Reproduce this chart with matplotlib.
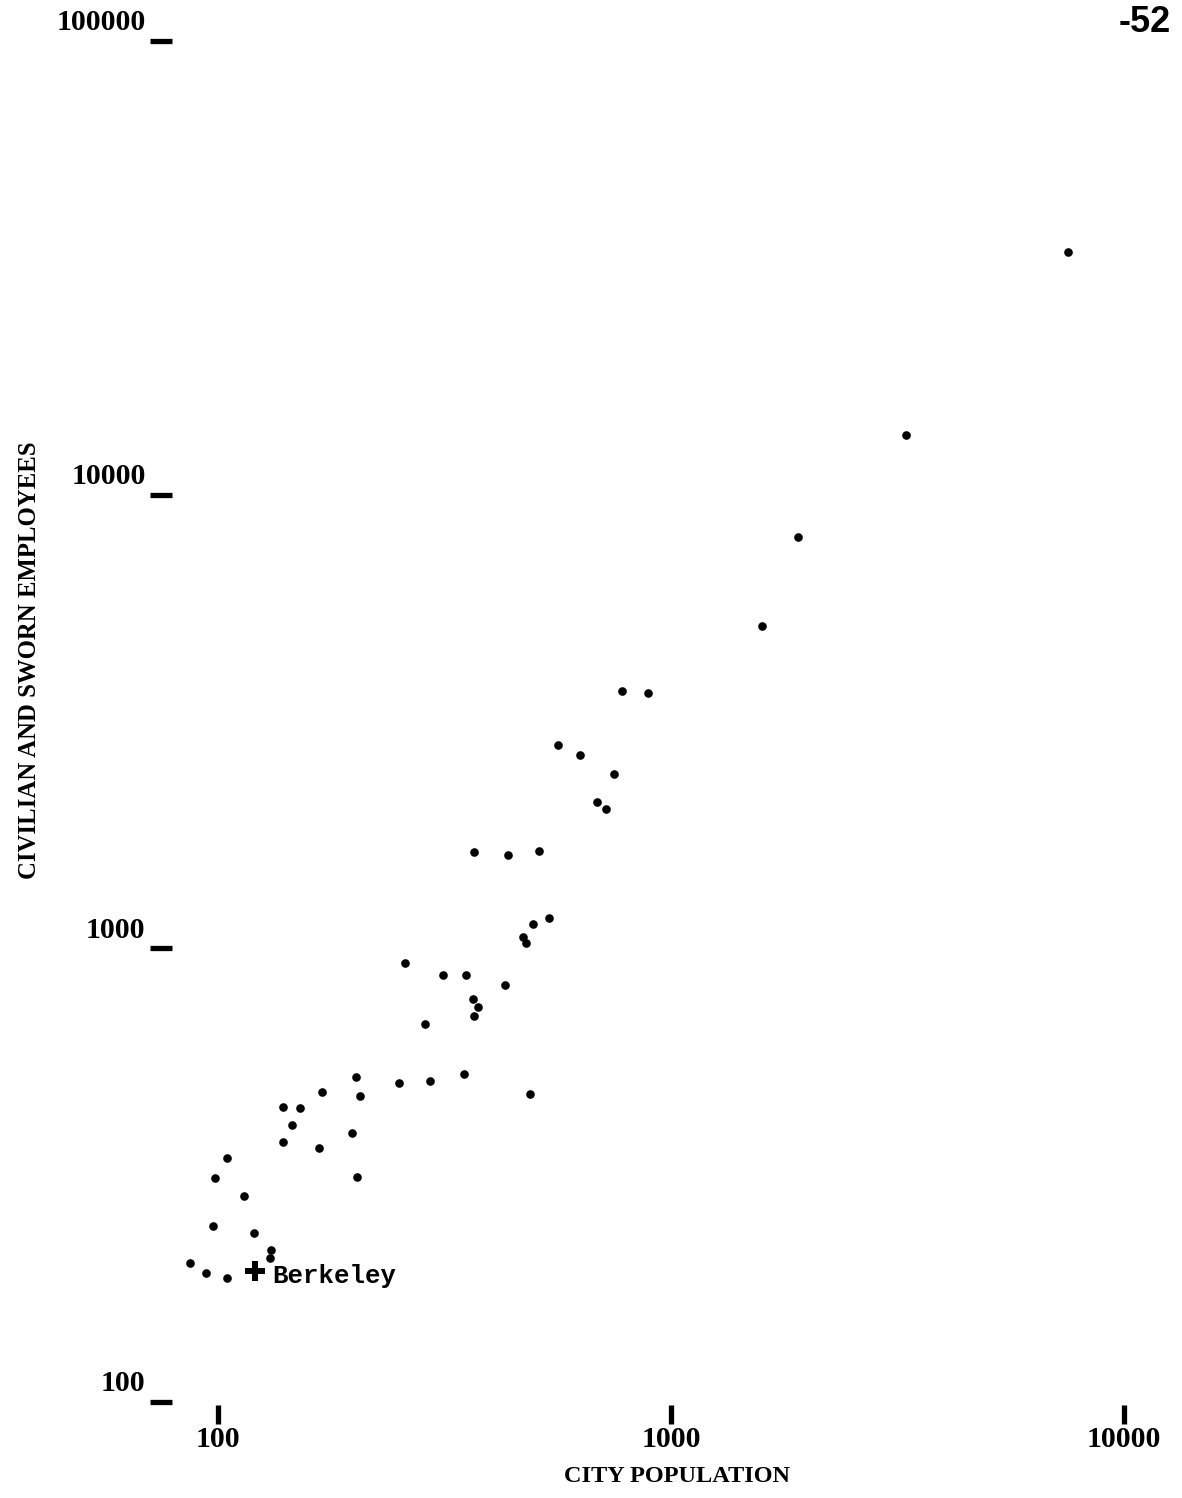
import matplotlib
matplotlib.use("Agg")
import matplotlib.pyplot as plt
import matplotlib.transforms as mtransforms

# city population (thousands) vs civilian + sworn police employees
population = [105, 98.5, 139, 167, 198, 203, 114, 97.5, 120, 131,
              130, 87, 94, 105, 202, 251, 294, 349, 488, 170,
              206, 139, 152, 146, 367, 437, 511, 538, 496, 471,
              479, 259, 314, 353, 430, 365, 375, 367, 286, 780,
              890, 563, 630, 749, 686, 719, 1588, 1907, 3302, 7522]
employees = [345, 312, 374, 363, 392, 313, 285, 244, 236, 216,
             208, 202, 192, 188, 521, 505, 510, 529, 478, 482,
             473, 447, 445, 408, 1631, 1607, 1639, 1167, 1132, 1060,
             1028, 929, 874, 874, 830, 773, 742, 710, 681, 3692,
             3655, 2807, 2669, 2424, 2102, 2029, 5135, 8069, 13540, 34260]

berkeley_pop = 121
berkeley_emp = 194

xticks = [100, 1000, 10000]
yticks = [100, 1000, 10000, 100000]
xtick_labels = ["100", "1000", "10000"]
ytick_labels = ["100", "1000", "10000", "100000"]

W, H = 1182, 1498
fig = plt.figure(figsize=(W / 100, H / 100), dpi=100)
fig.patch.set_facecolor("white")

# axes box placed in pixels so that the decade marks line up
left, bottom = 172, 1405
ax = fig.add_axes([left / W, 1 - bottom / H, (W - left) / W, bottom / H])
ax.set_xscale("log")
ax.set_yscale("log")
ax.set_xlim(79.2, 13430)
ax.set_ylim(98.5, 123100)
for s in ax.spines.values():
    s.set_visible(False)

serif = "Liberation Serif"

ax.plot(population, employees, "o", color="black", markersize=6.2,
        markeredgewidth=0)

ax.plot([berkeley_pop], [berkeley_emp], "P", color="black", markersize=15,
        markeredgewidth=0)
ax.annotate("Berkeley", (berkeley_pop, berkeley_emp), xytext=(12, -3),
            textcoords="offset points", ha="left", va="center",
            family="Liberation Mono", fontweight="bold", fontsize=18.5)

ax.set_xticks(xticks)
ax.set_xticklabels(xtick_labels, family=serif, fontweight="bold", fontsize=21.5)
ax.set_yticks(yticks)
ax.set_yticklabels([])
ax.minorticks_off()
ax.tick_params(axis="x", direction="out", length=14, width=3.8, pad=1)
ax.tick_params(axis="y", direction="out", length=16, width=3.8)

# y labels sit up and to the left of their dashes
trans = mtransforms.blended_transform_factory(ax.transAxes, ax.transData)
for v, lab in zip(yticks, ytick_labels):
    ax.annotate(lab, (0, v), xycoords=trans, xytext=(-19, 13),
                textcoords="offset points", ha="right", va="center",
                family=serif, fontweight="bold", fontsize=21.5)

fig.text(677 / W, 1 - 1477 / H, "CITY POPULATION", ha="center", va="center",
         family=serif, fontweight="bold", fontsize=17.5)
fig.text(30 / W, 1 - 660 / H, "CIVILIAN AND SWORN EMPLOYEES", rotation=90,
         ha="center", va="center", family=serif, fontweight="bold", fontsize=17.8)
fig.text(1145 / W, 1 - 22 / H, "-52", ha="center", va="center",
         family="Liberation Sans", fontweight="bold", fontsize=26)

fig.savefig("out.png", dpi=100, facecolor="white")
